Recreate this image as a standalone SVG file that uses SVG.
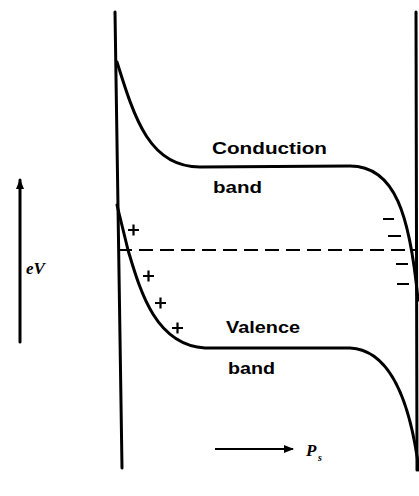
<svg xmlns="http://www.w3.org/2000/svg" width="419" height="496" viewBox="0 0 419 496">
<style>
.ln{fill:none;stroke:#000;stroke-width:3;stroke-linecap:round;stroke-linejoin:round}
.th{fill:none;stroke:#000;stroke-width:2.2}
.lb{font-family:"Liberation Sans",Arial,sans-serif;font-weight:bold;font-size:17px;fill:#000}
.it{font-family:"Liberation Serif","Times New Roman",serif;font-style:italic;font-weight:bold;fill:#000}
</style>
<defs>
<marker id="ah" viewBox="0 0 10 10" refX="9" refY="5" markerWidth="10" markerHeight="10" markerUnits="userSpaceOnUse" orient="auto">
<path d="M0,1 L10,5 L0,9 Z" fill="#000"/>
</marker>
</defs>
<rect width="419" height="496" fill="#fff"/>
<g id="frame">
<path class="ln" d="M115,12 L122,468"/>
<path class="ln" d="M416,12 L417,470"/>
</g>
<g id="conduction-band">
<path class="ln" d="M117,62 C135,120 150,167 200,167 L350,166 C395,166 410,215 418,300"/>
<text class="lb" x="212" y="154" textLength="115" lengthAdjust="spacingAndGlyphs">Conduction</text>
<text class="lb" x="213" y="193" textLength="49" lengthAdjust="spacingAndGlyphs">band</text>
</g>
<g id="valence-band">
<path class="ln" d="M117,205 L128,250 C140,290 155,345 205,348 L350,348 C390,350 410,400 419,470"/>
<text class="lb" x="226" y="333" textLength="74" lengthAdjust="spacingAndGlyphs">Valence</text>
<text class="lb" x="228" y="374" textLength="47" lengthAdjust="spacingAndGlyphs">band</text>
</g>
<g id="fermi-level">
<path class="th" d="M118,250 L418,250" stroke-dasharray="14,7"/>
</g>
<g id="charges">
<path class="th" d="M128,230 h11 M133.5,224.5 v11 M143,276 h11 M148.5,270.5 v11 M155,303 h11 M160.5,297.5 v11 M172,328 h11 M177.5,322.5 v11"/>
<path class="th" d="M383,219 h11 M388,236 h13 M396,264 h12 M397,284 h12"/>
</g>
<g id="connectors">
<path class="ln" d="M20,342 L20,180" marker-end="url(#ah)"/>
<path class="th" d="M215,449 L293,449" marker-end="url(#ah)"/>
</g>
<g id="labels">
<text class="it" x="26" y="274" font-size="17">eV</text>
<text class="it" x="306" y="456" font-size="17">P</text>
<text class="it" x="318" y="461" font-size="10">s</text>
</g>
</svg>
